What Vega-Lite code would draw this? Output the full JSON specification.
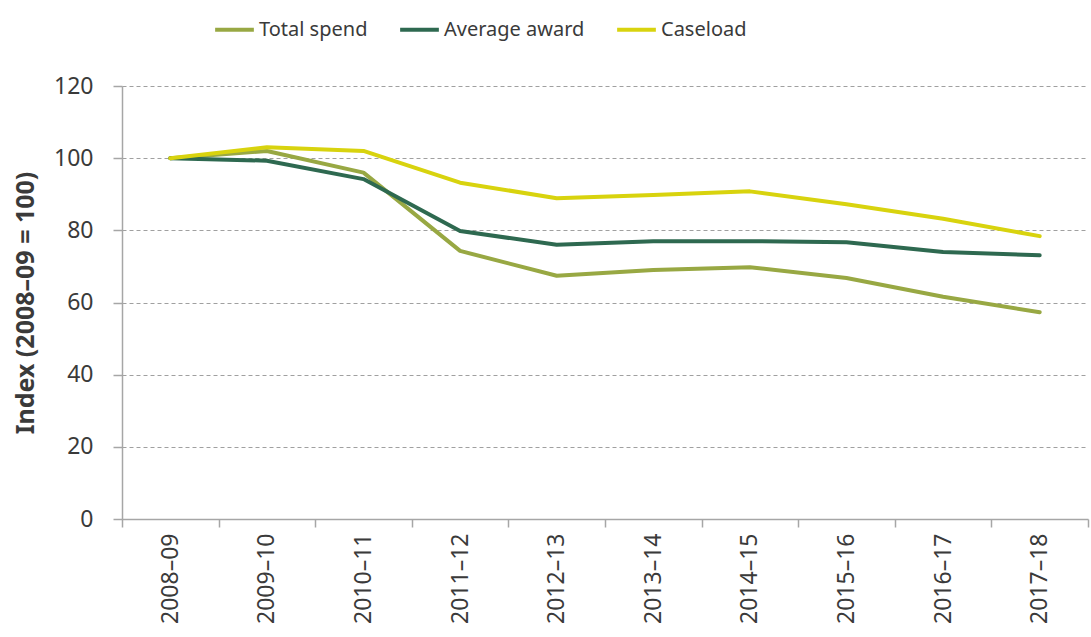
{
  "$schema": "https://vega.github.io/schema/vega-lite/v6.json",
  "width": 966,
  "height": 433,
  "autosize": "none",
  "padding": {"left": 122, "top": 86, "right": 3, "bottom": 118},
  "background": "white",
  "config": {
    "view": {"stroke": null},
    "font": "Noto Sans",
    "axis": {"labelColor": "#3a3a3a", "titleColor": "#3a3a3a", "domainColor": "#a6a6a6", "tickColor": "#a6a6a6", "domainWidth": 1.5, "tickWidth": 1.5}
  },
  "data": {
    "values": [
      {"year": "2008–09", "series": "Total spend", "value": 100},
      {"year": "2009–10", "series": "Total spend", "value": 102},
      {"year": "2010–11", "series": "Total spend", "value": 96},
      {"year": "2011–12", "series": "Total spend", "value": 74.3},
      {"year": "2012–13", "series": "Total spend", "value": 67.4},
      {"year": "2013–14", "series": "Total spend", "value": 69},
      {"year": "2014–15", "series": "Total spend", "value": 69.8},
      {"year": "2015–16", "series": "Total spend", "value": 66.8},
      {"year": "2016–17", "series": "Total spend", "value": 61.6},
      {"year": "2017–18", "series": "Total spend", "value": 57.3},
      {"year": "2008–09", "series": "Average award", "value": 100},
      {"year": "2009–10", "series": "Average award", "value": 99.3},
      {"year": "2010–11", "series": "Average award", "value": 94.2},
      {"year": "2011–12", "series": "Average award", "value": 79.8},
      {"year": "2012–13", "series": "Average award", "value": 76},
      {"year": "2013–14", "series": "Average award", "value": 77},
      {"year": "2014–15", "series": "Average award", "value": 77},
      {"year": "2015–16", "series": "Average award", "value": 76.7},
      {"year": "2016–17", "series": "Average award", "value": 74},
      {"year": "2017–18", "series": "Average award", "value": 73.1},
      {"year": "2008–09", "series": "Caseload", "value": 100},
      {"year": "2009–10", "series": "Caseload", "value": 103},
      {"year": "2010–11", "series": "Caseload", "value": 102},
      {"year": "2011–12", "series": "Caseload", "value": 93.2},
      {"year": "2012–13", "series": "Caseload", "value": 88.9},
      {"year": "2013–14", "series": "Caseload", "value": 89.8},
      {"year": "2014–15", "series": "Caseload", "value": 90.8},
      {"year": "2015–16", "series": "Caseload", "value": 87.2},
      {"year": "2016–17", "series": "Caseload", "value": 83.2},
      {"year": "2017–18", "series": "Caseload", "value": 78.4}
    ]
  },
  "mark": {"type": "line", "strokeWidth": 4, "strokeCap": "round", "strokeJoin": "round"},
  "encoding": {
    "x": {
      "field": "year", "type": "ordinal", "sort": null,
      "scale": {"type": "band", "paddingInner": 0, "paddingOuter": 0},
      "axis": {"title": null, "labelAngle": -90, "labelFontSize": 23, "labelPadding": 6, "tickBand": "extent", "tickSize": 8, "grid": false}
    },
    "y": {
      "field": "value", "type": "quantitative",
      "scale": {"domain": [0, 120], "nice": false},
      "axis": {"title": "Index (2008–09 = 100)", "titleFontSize": 25, "titleFontWeight": "bold", "titlePadding": 15, "values": [0, 20, 40, 60, 80, 100, 120], "labelFontSize": 23, "labelPadding": 20, "tickSize": 9, "grid": true, "gridDash": [4, 3], "gridColor": "#a0a0a0", "gridWidth": 1}
    },
    "color": {
      "field": "series", "type": "nominal",
      "scale": {"domain": ["Total spend", "Average award", "Caseload"], "range": ["#98a843", "#2e6950", "#d8d30e"]},
      "legend": {"title": null, "orient": "none", "direction": "horizontal", "legendX": 91, "legendY": -78, "symbolType": "stroke", "symbolStrokeWidth": 4, "symbolSize": 1500, "labelFont": "Noto Sans", "labelFontSize": 20, "labelColor": "#3a3a3a", "labelOffset": 3, "columnPadding": 24, "symbolOffset": 0}
    }
  }
}
